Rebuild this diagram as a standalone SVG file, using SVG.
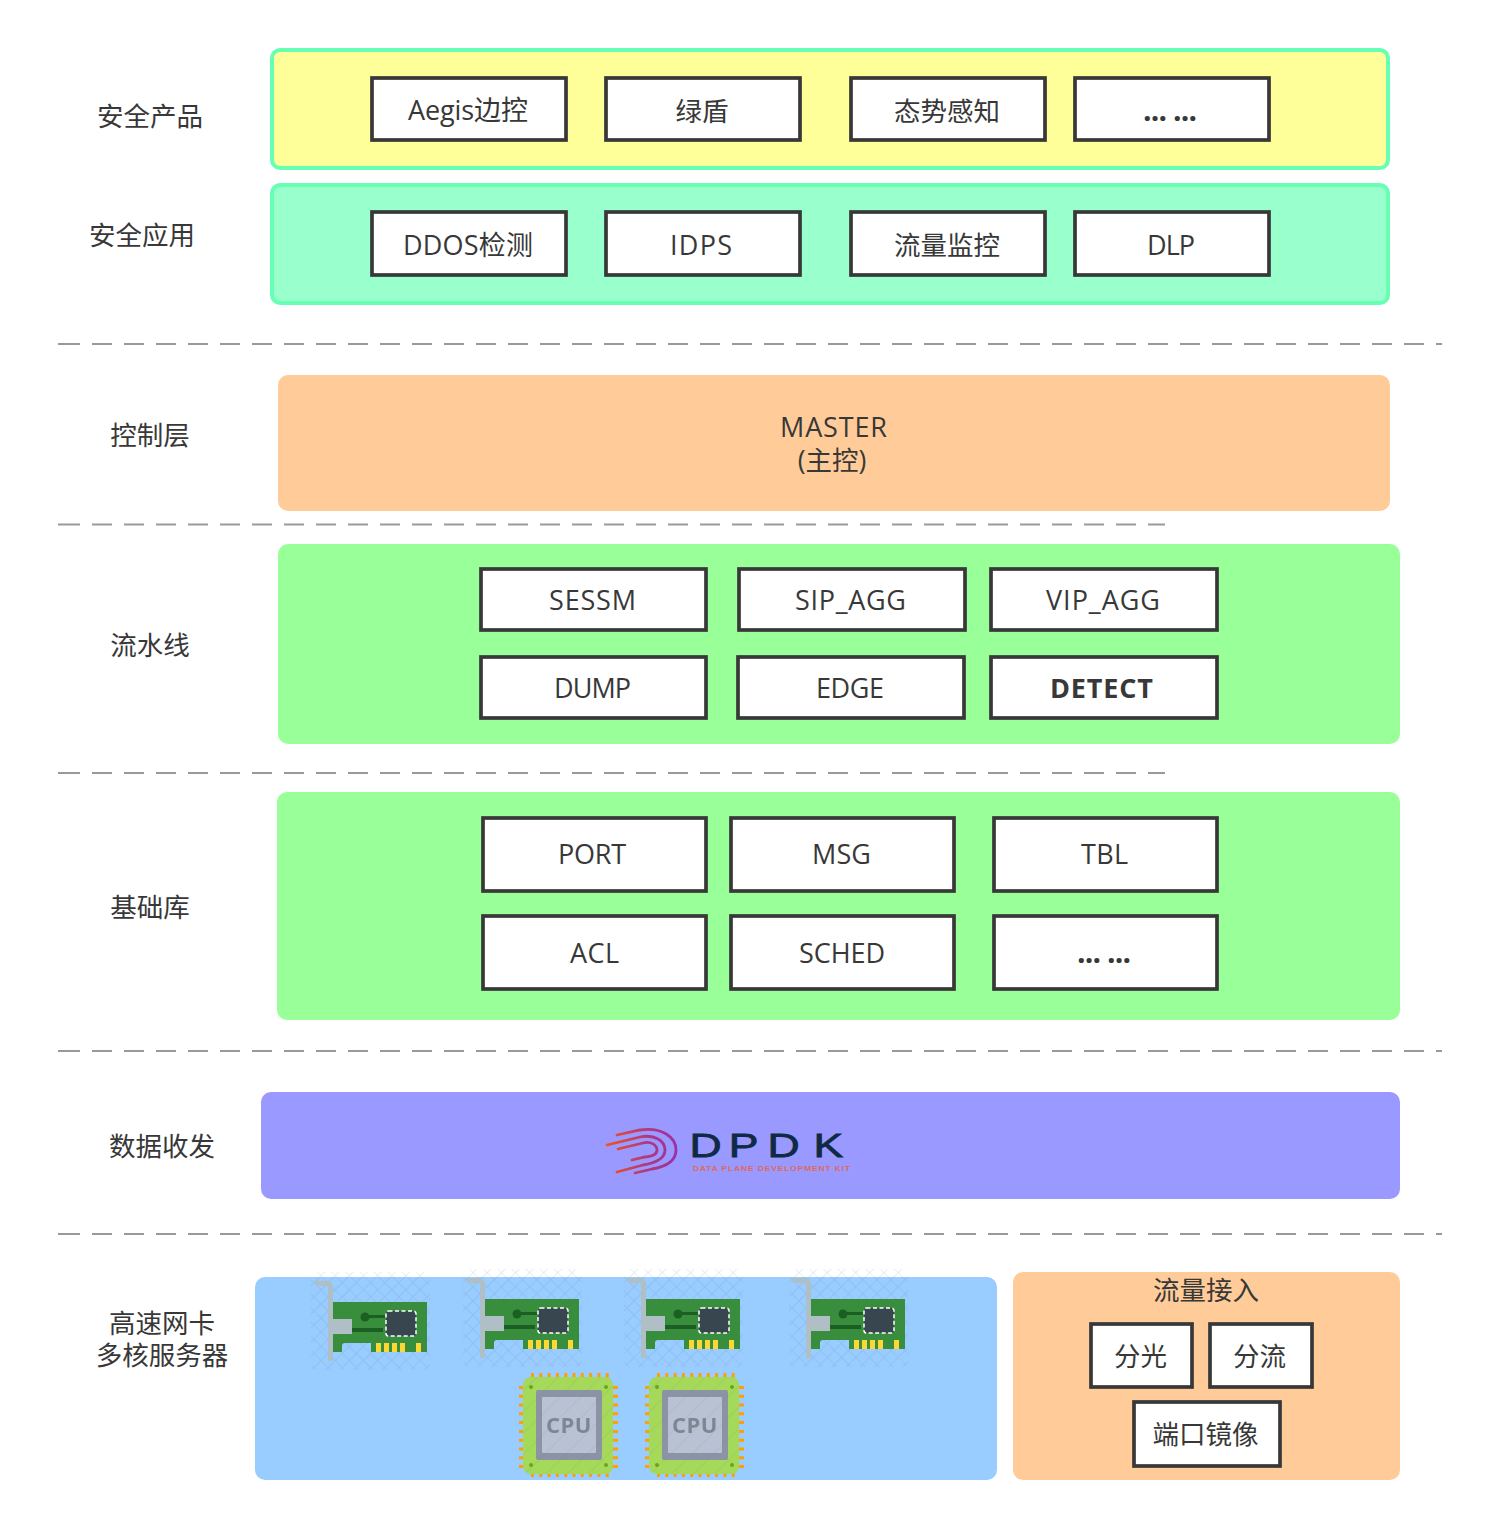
<svg xmlns="http://www.w3.org/2000/svg" xmlns:xlink="http://www.w3.org/1999/xlink" width="1493" height="1529" viewBox="0 0 1493 1529">
<style>
text{font-family:"Open Sans","Noto Sans CJK SC",sans-serif;font-size:26.5px;fill:#383838;text-anchor:middle}
.box{fill:#fff;stroke:#383838;stroke-width:3.7}
.dash{stroke:#999;stroke-width:2;stroke-dasharray:20 12;fill:none}
.lat{font-size:27px}
.bold{font-weight:700}
.dots{font-size:30px;font-weight:700}
.logo{font-family:"Liberation Sans",sans-serif}
.soft{filter:url(#soft)}
</style>
<defs>
<filter id="soft" x="-5%" y="-5%" width="110%" height="110%"><feGaussianBlur stdDeviation="0.45"/></filter>
<pattern id="hatch" width="10" height="10" patternUnits="userSpaceOnUse" patternTransform="rotate(45)">
<path d="M0 0H10M0 0V10" stroke="#5b7da0" stroke-width="1.2" opacity=".24" fill="none"/>
</pattern>
<pattern id="stripe" width="15" height="15" patternUnits="userSpaceOnUse" patternTransform="rotate(45)">
<path d="M0 0V15" stroke="#6f8a6a" stroke-width="1" opacity=".28" fill="none"/>
</pattern>
<g id="nic">
<rect x="-3" y="-10" width="119" height="98" rx="6" fill="url(#hatch)"/>
<path d="M1 1.500H12Q16.500 1.500 16.500 6V79" fill="none" stroke="#b0bec5" stroke-width="5"/>
<path d="M19 20H113V70H57V61H31Q28 61 28 64V70H19Z" fill="#388e3c"/>
<rect x="16" y="37" width="22" height="15" fill="#b0bec5"/>
<rect x="38" y="46" width="31" height="4" fill="#1b5e20"/>
<circle cx="51" cy="35" r="4.500" fill="#1b5e20"/>
<rect x="51" y="33" width="20" height="3" fill="#1b5e20"/>
<rect x="72" y="29" width="30" height="25" rx="2.500" fill="#37474f" stroke="#fff" stroke-width="1.500" stroke-dasharray="4 2.500"/>
<g fill="#fdd835"><rect x="62" y="61" width="5" height="9"/><rect x="70" y="61" width="5" height="9"/><rect x="78" y="61" width="5" height="9"/><rect x="86" y="61" width="5" height="9"/><rect x="102" y="61" width="5" height="9"/></g>
</g>
<g id="cpu">
<path d="M13.500 0V5M21.800 0V5M30.100 0V5M38.400 0V5M46.700 0V5M55 0V5M63.300 0V5M71.600 0V5M79.900 0V5M88.200 0V5M13.500 100V104M21.800 100V104M30.100 100V104M38.400 100V104M46.700 100V104M55 100V104M63.300 100V104M71.600 100V104M79.900 100V104M88.200 100V104" stroke="#ffa000" stroke-width="3" fill="none"/>
<path d="M0 14.500H5M0 23.300H5M0 32H5M0 40.800H5M0 49.600H5M0 58.400H5M0 67.200H5M0 76H5M0 84.700H5M0 93.500H5M93 14.500H99M93 23.300H99M93 32H99M93 40.800H99M93 49.600H99M93 58.400H99M93 67.200H99M93 76H99M93 84.700H99M93 93.500H99" stroke="#ffa000" stroke-width="3" fill="none"/>
<rect x="4" y="4" width="90" height="97" rx="8" fill="#a5d95a"/>
<g fill="#6aa51e"><circle cx="12" cy="14" r="2"/><circle cx="87" cy="14" r="2"/><circle cx="12" cy="92" r="2"/><circle cx="87" cy="92" r="2"/></g>
<rect x="17" y="17" width="66" height="70" rx="2" fill="#8b93a5"/>
<rect x="23" y="24" width="54" height="56" rx="1" fill="#b9c2d4"/>
<text x="50" y="60" style="font-size:22px;font-weight:700;fill:#7d8694;letter-spacing:.5px">CPU</text>
<rect x="4" y="4" width="90" height="97" rx="8" fill="url(#stripe)"/>
</g>
<linearGradient id="lg" gradientUnits="userSpaceOnUse" x1="607" y1="0" x2="677" y2="0"><stop offset="0" stop-color="#f4511e"/><stop offset=".55" stop-color="#b03a7a"/><stop offset="1" stop-color="#9c2fa8"/></linearGradient>
</defs>

<g id="dividers">
<path class="dash" d="M58 344H60M60 344H1442"/>
<path class="dash" d="M58 524.500H60M60 524.500H1165"/>
<path class="dash" d="M58 773H60M60 773H1165"/>
<path class="dash" d="M58 1051H60M60 1051H1442"/>
<path class="dash" d="M58 1234H60M60 1234H1442"/>
</g>

<g id="labels">
<text x="150" y="126">安全产品</text>
<text x="142" y="245">安全应用</text>
<text x="150" y="445">控制层</text>
<text x="150" y="655">流水线</text>
<text x="150" y="917">基础库</text>
<text x="162" y="1156">数据收发</text>
<text><tspan x="162" y="1333">高速网卡</tspan><tspan x="162" y="1365">多核服务器</tspan></text>
</g>

<g id="band-products"><rect x="272" y="50" width="1116" height="118" rx="8" fill="#ffff99" stroke="#66ffb3" stroke-width="4"/></g>
<g id="node-aegis"><rect class="box" x="372" y="78" width="194" height="62"/><text class="lat" x="468" y="120" textLength="120">Aegis边控</text></g>
<g id="node-lvdun"><rect class="box" x="606" y="78" width="194" height="62"/><text x="702" y="121">绿盾</text></g>
<g id="node-taishi"><rect class="box" x="851" y="78" width="194" height="62"/><text x="947" y="121">态势感知</text></g>
<g id="node-more1"><rect class="box" x="1075" y="78" width="194" height="62"/><text class="dots" x="1170" y="121" textLength="54">... ...</text></g>

<g id="band-apps"><rect x="272" y="185" width="1116" height="118" rx="8" fill="#99ffcc" stroke="#66ffb3" stroke-width="4"/></g>
<g id="node-ddos"><rect class="box" x="372" y="212" width="194" height="63"/><text class="lat" x="468" y="255" textLength="130">DDOS检测</text></g>
<g id="node-idps"><rect class="box" x="606" y="212" width="194" height="63"/><text class="lat" x="701" y="255" textLength="62">IDPS</text></g>
<g id="node-flowmon"><rect class="box" x="851" y="212" width="194" height="63"/><text x="947" y="255">流量监控</text></g>
<g id="node-dlp"><rect class="box" x="1075" y="212" width="194" height="63"/><text class="lat" x="1171" y="255" textLength="48">DLP</text></g>

<g id="node-master"><rect x="278" y="375" width="1112" height="136" rx="10" fill="#ffcc99"/><text class="lat" x="833.500" y="437" textLength="107">MASTER</text><text x="832" y="470">(主控)</text></g>

<g id="band-pipeline"><rect x="278" y="544" width="1122" height="200" rx="10" fill="#99ff99"/></g>
<g id="node-sessm"><rect class="box" x="481" y="569" width="225" height="61"/><text class="lat" x="592.500" y="610" textLength="87">SESSM</text></g>
<g id="node-sipagg"><rect class="box" x="739" y="569" width="226" height="61"/><text class="lat" x="850.500" y="610" textLength="111">SIP_AGG</text></g>
<g id="node-vipagg"><rect class="box" x="991" y="569" width="226" height="61"/><text class="lat" x="1103" y="610" textLength="114">VIP_AGG</text></g>
<g id="node-dump"><rect class="box" x="481" y="657" width="225" height="61"/><text class="lat" x="592.500" y="698" textLength="77">DUMP</text></g>
<g id="node-edge"><rect class="box" x="738" y="657" width="226" height="61"/><text class="lat" x="850" y="698" textLength="68">EDGE</text></g>
<g id="node-detect"><rect class="box" x="991" y="657" width="226" height="61"/><text class="lat bold" x="1101.500" y="698" textLength="103">DETECT</text></g>

<g id="band-lib"><rect x="277" y="792" width="1123" height="228" rx="10" fill="#99ff99"/></g>
<g id="node-port"><rect class="box" x="483" y="818" width="223" height="73"/><text class="lat" x="592" y="864" textLength="68">PORT</text></g>
<g id="node-msg"><rect class="box" x="731" y="818" width="223" height="73"/><text class="lat" x="841.500" y="864" textLength="59">MSG</text></g>
<g id="node-tbl"><rect class="box" x="994" y="818" width="223" height="73"/><text class="lat" x="1104.500" y="864" textLength="47">TBL</text></g>
<g id="node-acl"><rect class="box" x="483" y="916" width="223" height="73"/><text class="lat" x="594.500" y="963" textLength="49">ACL</text></g>
<g id="node-sched"><rect class="box" x="731" y="916" width="223" height="73"/><text class="lat" x="842" y="963" textLength="86">SCHED</text></g>
<g id="node-more2"><rect class="box" x="994" y="916" width="223" height="73"/><text class="dots" x="1104" y="963" textLength="54">... ...</text></g>

<g id="node-dpdk">
<rect x="261" y="1092" width="1139" height="107" rx="10" fill="#9999ff"/>
<g fill="none" stroke="url(#lg)" stroke-width="2.800" stroke-linecap="round">
<path d="M617 1135L640 1130C662 1127 676 1137 676 1150C676 1162 664 1167 652 1169L635 1173"/>
<path d="M607 1145L640 1137C655 1134 665 1141 665 1150C665 1159 655 1163 643 1165L617 1172"/>
<path d="M618 1149L643 1143C651 1141 657 1145 657 1150C657 1155 652 1156 645 1157L632 1160"/>
</g>
<text class="logo" transform="translate(689.500 1157) scale(1.35 1)" x="0 29 57.800 91.900" y="0" style="text-anchor:start;font-size:33px;fill:#0f2a44;stroke:#0f2a44;stroke-width:.8">DPDK</text>
<text class="logo" x="772" y="1171" textLength="158" lengthAdjust="spacingAndGlyphs" style="font-size:7.500px;font-weight:700;fill:#e0685a;letter-spacing:.8px">DATA PLANE DEVELOPMENT KIT</text>
</g>

<g id="band-hw"><rect x="255" y="1277" width="742" height="203" rx="10" fill="#99ccff"/></g>
<g id="node-nic1"><use class="soft" xlink:href="#nic" href="#nic" x="314" y="1282"/></g>
<g id="node-nic2"><use class="soft" xlink:href="#nic" href="#nic" x="466" y="1279"/></g>
<g id="node-nic3"><use class="soft" xlink:href="#nic" href="#nic" x="627" y="1279"/></g>
<g id="node-nic4"><use class="soft" xlink:href="#nic" href="#nic" x="792" y="1279"/></g>
<g id="node-cpu1"><use class="soft" xlink:href="#cpu" href="#cpu" x="519" y="1373"/></g>
<g id="node-cpu2"><use class="soft" xlink:href="#cpu" href="#cpu" x="645" y="1373"/></g>

<g id="band-traffic"><rect x="1013" y="1272" width="387" height="208" rx="10" fill="#ffcc99"/><text x="1206" y="1300">流量接入</text></g>
<g id="node-split"><rect class="box" x="1091" y="1324" width="101" height="63"/><text x="1140.500" y="1366">分光</text></g>
<g id="node-shunt"><rect class="box" x="1210" y="1324" width="102" height="63"/><text x="1259.500" y="1366">分流</text></g>
<g id="node-mirror"><rect class="box" x="1134" y="1402" width="146" height="64"/><text x="1205.500" y="1444">端口镜像</text></g>
</svg>
